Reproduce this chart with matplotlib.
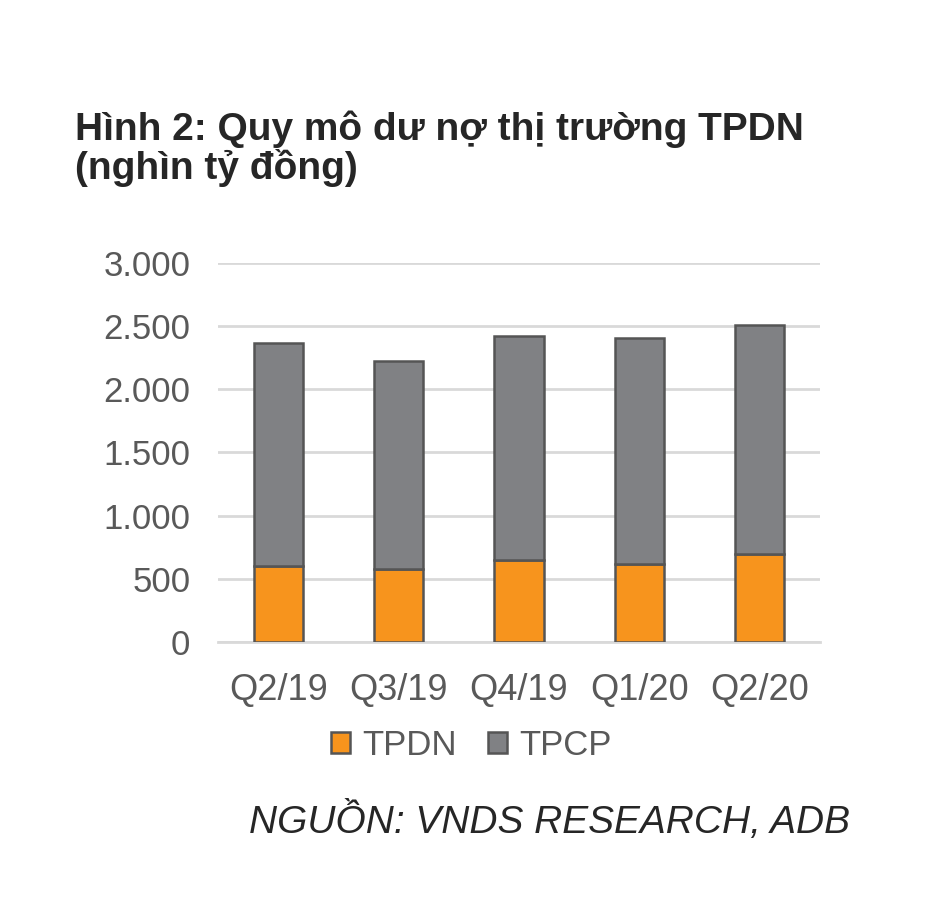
import matplotlib
matplotlib.use("Agg")
import matplotlib.pyplot as plt
import numpy as np

plt.rcParams['font.family'] = ['Liberation Sans', 'DejaVu Sans']

quy = ["Q2/19", "Q3/19", "Q4/19", "Q1/20", "Q2/20"]
tpdn = [605, 579, 645, 618, 697]
tpcp = [1763, 1645, 1779, 1790, 1816]
y_ticks = [0, 500, 1000, 1500, 2000, 2500, 3000]
y_labels = ["0", "500", "1.000", "1.500", "2.000", "2.500", "3.000"]

fig = plt.figure(figsize=(9.38, 9), dpi=100)
ax = fig.add_axes([0.2324, 0.2867, 0.6418, 0.4211])

x = np.arange(len(quy))
ax.bar(x, tpdn, width=0.41, color="#F7941D", edgecolor="#555555", linewidth=1.8,
       label="TPDN", zorder=3)
ax.bar(x, tpcp, width=0.41, bottom=tpdn, color="#808184", edgecolor="#555555",
       linewidth=1.8, label="TPCP", zorder=3)

ax.set_xlim(-0.5, len(quy) - 0.5)
ax.set_ylim(0, 3000)
ax.set_yticks(y_ticks)
ax.set_yticklabels(y_labels)
ax.set_xticks(x)
ax.set_xticklabels(quy)
ax.tick_params(axis="both", length=0, labelcolor="#595959")
ax.tick_params(axis="y", labelsize=25, pad=20)
ax.tick_params(axis="x", labelsize=26, pad=22)
ax.grid(axis="y", color="#d9d9d9", linewidth=2, zorder=0)
for s in ["top", "right", "left"]:
    ax.spines[s].set_visible(False)
ax.spines["bottom"].set_color("#d9d9d9")
ax.spines["bottom"].set_linewidth(2)

fig.text(0.08, 1 - 140 / 900, "Hình 2: Quy mô dư nợ thị trường TPDN",
         fontsize=28, fontweight="bold", color="#262626", ha="left", va="baseline")
fig.text(0.08, 1 - 179 / 900, "(nghìn tỷ đồng)",
         fontsize=28, fontweight="bold", color="#262626", ha="left", va="baseline")

leg = fig.legend(loc="center", bbox_to_anchor=(0.502, 0.172), ncol=2, frameon=False,
                 fontsize=25, handlelength=0.55, handleheight=0.55, handletextpad=0.35,
                 columnspacing=0.9)
for t in leg.get_texts():
    t.set_color("#595959")

fig.text(0.906, 1 - 833 / 900, "NGUỒN: VNDS RESEARCH, ADB", fontsize=28,
         fontstyle="italic", color="#262626", ha="right", va="baseline")

fig.savefig("out.png", dpi=100, facecolor="white")
